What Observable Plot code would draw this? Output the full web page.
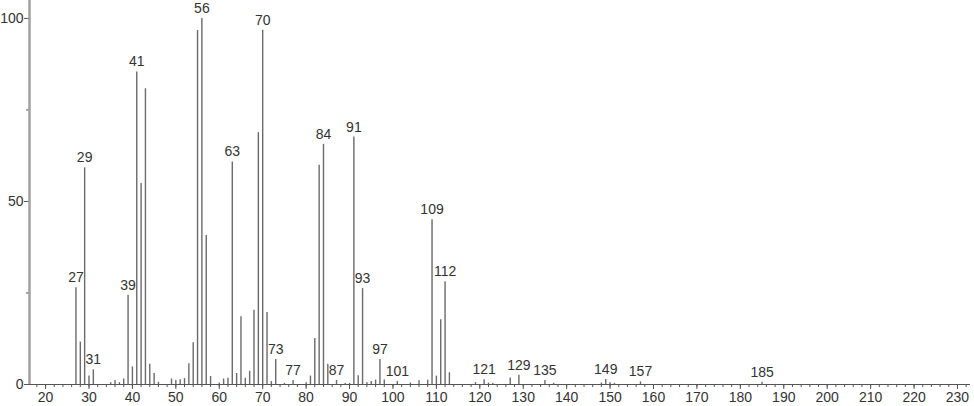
<!DOCTYPE html>
<html>
<head>
<meta charset="utf-8">
<script src="https://cdn.jsdelivr.net/npm/d3@7"></script>
<script src="https://cdn.jsdelivr.net/npm/@observablehq/plot@0.6"></script>
<style>
  html, body { margin: 0; padding: 0; background: #fff; }
  #chart svg { display: block; }
</style>
</head>
<body>
<div id="chart"></div>
<script>
// m/z values and relative intensities (%)
const mz = [27,28,29,30,31,35,36,37,38,39,40,41,42,43,44,45,46,49,50,51,52,53,54,55,56,57,58,60,61,62,63,64,65,66,67,68,69,70,71,72,73,75,77,80,81,82,83,84,85,87,89,90,91,92,93,94,95,96,97,98,101,104,106,108,109,110,111,112,113,119,121,122,123,127,129,135,137,148,149,150,151,157,185];
const intensity = [26.4,11.6,59.2,2.3,4.0,0.5,1.1,0.5,1.5,24.4,4.8,85.4,54.9,80.8,5.5,3.0,0.6,1.5,1.1,1.3,1.6,5.7,11.4,96.7,100,40.7,2.2,0.4,1.5,1.7,60.8,3.0,18.5,1.7,3.6,20.3,68.8,96.8,19.7,0.8,6.8,0.3,1.1,0.5,2.3,12.6,59.9,65.6,5.5,1.1,0.3,0.3,67.6,2.4,26.2,0.5,0.8,1.2,6.8,1.2,0.8,0.4,1.0,1.2,45.0,2.3,17.7,28.1,3.2,0.5,1.3,0.4,0.3,1.8,2.5,1.1,0.3,0.4,1.4,0.5,0.3,0.7,0.6];
const labeledPeaks = [27,29,31,39,41,56,63,70,73,77,84,87,91,93,97,101,109,112,121,129,135,149,157,185];
const xMajorTicks = d3.range(20, 231, 10);
const xMinorTicks = d3.range(18, 233, 2);
const yMajorTicks = [0, 50, 100];
const yMinorTicks = [25, 75];

const peaks = mz.map((m, i) => ({mz: m, value: intensity[i]}));
const labels = peaks.filter(d => labeledPeaks.includes(d.mz));

const xMin = 16.3, xMax = 233.0;
const font = "Liberation Sans, Arial, sans-serif";

const chart = Plot.plot({
  width: 974,
  height: 406,
  marginLeft: 29,
  marginRight: 4,
  marginTop: 0,
  marginBottom: 22,
  style: {fontFamily: font, fontSize: "14px", color: "#333", background: "#fff"},
  x: {domain: [xMin, xMax]},
  y: {domain: [0, 104.9]},
  marks: [
    Plot.axisX({ticks: xMinorTicks, tickSize: 3, tickFormat: () => "", stroke: "#555", label: null}),
    Plot.axisX({ticks: xMajorTicks, tickSize: 5, tickPadding: 3, stroke: "#555", fill: "#333", fontSize: 14, label: null}),
    Plot.axisY({ticks: yMinorTicks, tickSize: 3, tickFormat: () => "", stroke: "#555", label: null}),
    Plot.axisY({ticks: yMajorTicks, tickSize: 5, tickPadding: 1, stroke: "#555", fill: "#333", fontSize: 14, label: null}),
    Plot.ruleY([0], {stroke: "#555", strokeWidth: 1}),
    Plot.ruleX(peaks, {x: "mz", y1: 0, y2: "value", stroke: "#6a6a6a", strokeWidth: 1.4}),
    Plot.ruleX([xMin], {stroke: "#a0a0a0", strokeWidth: 2.5}),
    Plot.text(labels, {x: "mz", y: "value", text: d => String(d.mz), dy: -10, fill: "#333", fontSize: 14})
  ]
});
document.getElementById("chart").appendChild(chart);
</script>
</body>
</html>
